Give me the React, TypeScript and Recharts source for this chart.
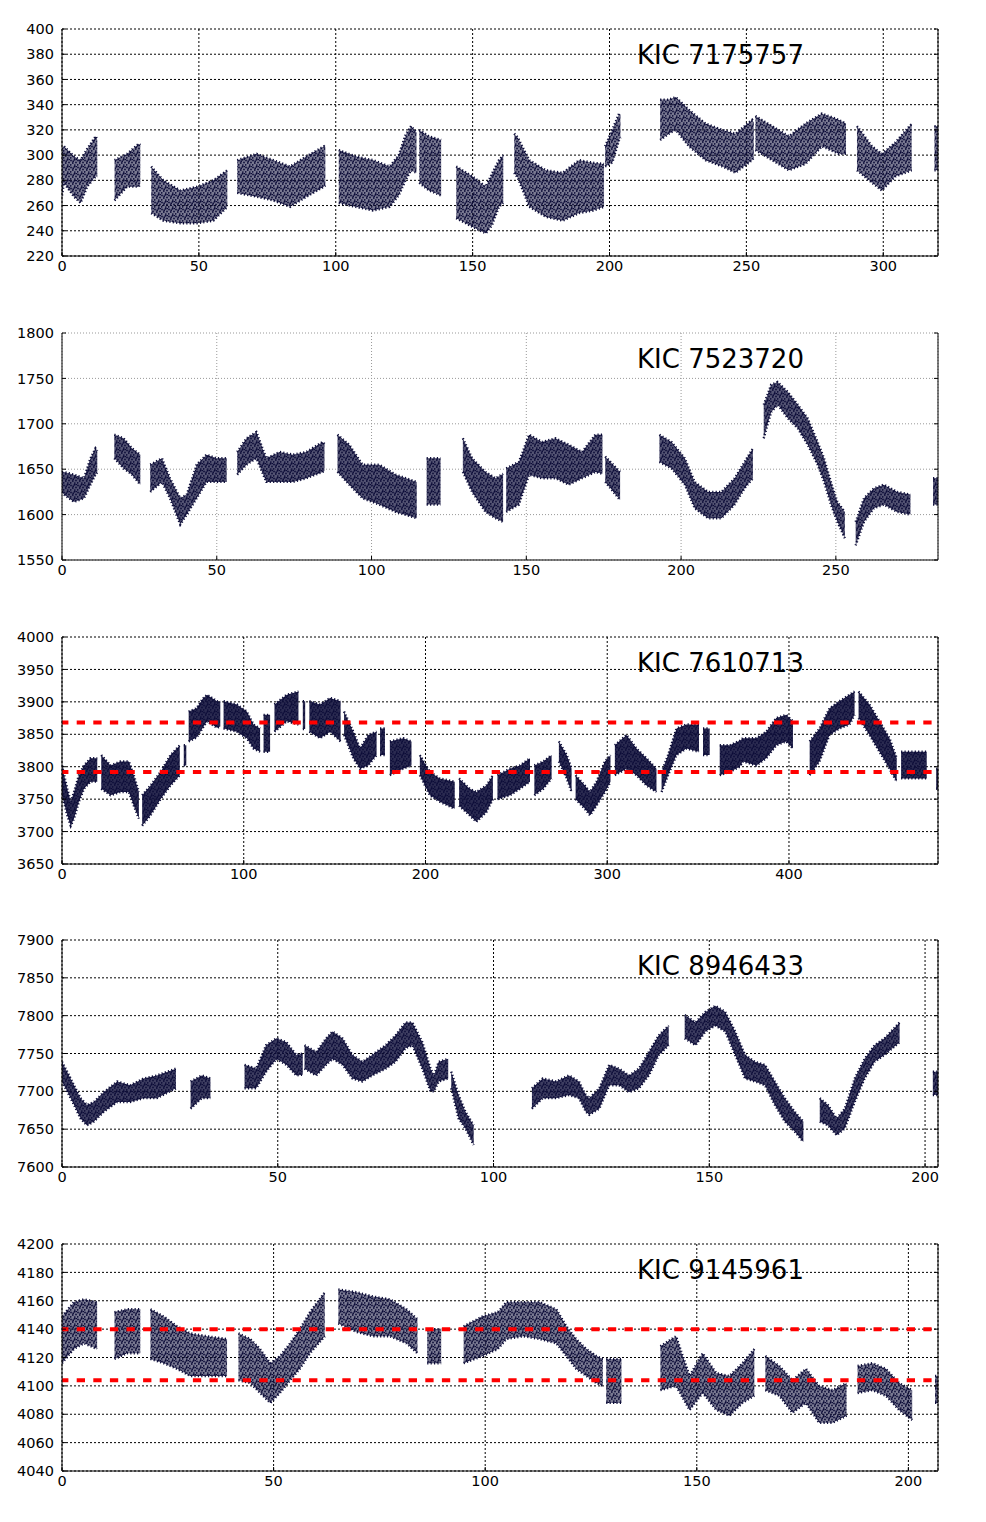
import { ComposedChart, Area, XAxis, YAxis, CartesianGrid, ReferenceLine } from "recharts";

// each segment: [day, low edge of the cloud, high edge of the cloud]
const kic7175757 = [
  [[0, 268, 305], [0.7, 278, 307], [4.4, 267, 299], [6.8, 262, 296], [9.2, 275, 305], [12.3, 283, 315], [12.9, 283, 312]],
  [[19.2, 264, 296], [23.8, 275, 301], [28, 275, 309], [28.6, 277, 308]],
  [[32.6, 254, 291], [37, 248, 280], [43.2, 246, 272], [49.3, 246, 275], [55.3, 248, 280], [60.4, 259, 288]],
  [[64, 270, 296], [71.1, 267, 301], [77.2, 264, 296], [83.3, 259, 291], [89.3, 267, 299], [95.7, 275, 307], [96.2, 276, 306]],
  [[101.1, 262, 304], [107.3, 259, 299], [113.6, 256, 296], [119.7, 259, 291], [123, 268, 300], [125.5, 280, 316], [127.5, 288, 323], [129.5, 286, 318]],
  [[130.5, 278, 320], [134, 272, 315], [138.5, 268, 312]],
  [[144, 250, 291], [150, 243, 283], [154.8, 238, 275], [157, 244, 285], [159.6, 259, 296], [161.2, 262, 300]],
  [[165.2, 286, 317], [166.5, 282, 314], [170.7, 259, 296], [176.8, 251, 288], [182.9, 248, 286], [188.9, 254, 296], [194, 256, 294], [198, 259, 293]],
  [[198.4, 291, 307], [201, 294, 320], [203.5, 312, 333], [204, 314, 332]],
  [[218.5, 312, 344], [221.7, 317, 344], [224.2, 320, 346], [229, 307, 336], [235.1, 296, 325], [241.2, 291, 320], [246, 286, 317], [252.1, 296, 328], [252.7, 298, 326]],
  [[253.3, 304, 331], [259.4, 296, 323], [265.5, 288, 315], [271.6, 293, 325], [277.6, 307, 333], [283.7, 301, 328], [286.4, 301, 325]],
  [[290.4, 288, 323], [295.9, 278, 307], [299.5, 272, 301], [304.4, 283, 310], [310.4, 288, 325]],
  [[318.7, 288, 323], [320, 288, 323]],
];

const kic7523720 = [
  [[0, 1625, 1647], [0.6, 1622, 1647], [3.9, 1614, 1644], [7.1, 1618, 1640], [9.2, 1633, 1662], [10.8, 1644, 1673], [11.4, 1646, 1670]],
  [[16.9, 1662, 1688], [19.9, 1651, 1684], [22.6, 1644, 1673], [25.3, 1633, 1666]],
  [[28.5, 1625, 1655], [32.3, 1636, 1662], [34.9, 1618, 1640], [38.2, 1589, 1618], [40.3, 1600, 1622], [43.5, 1618, 1655], [46.7, 1636, 1666], [49.9, 1636, 1662], [53.2, 1636, 1662]],
  [[56.6, 1644, 1669], [59.6, 1655, 1684], [62.8, 1662, 1691], [66, 1636, 1662], [70.3, 1636, 1669], [74.6, 1636, 1666], [78.9, 1640, 1669], [84.2, 1647, 1680], [84.8, 1648, 1678]],
  [[89, 1647, 1688], [92.8, 1633, 1677], [97.1, 1618, 1655], [102.5, 1611, 1655], [107.8, 1603, 1644], [114.6, 1596, 1636]],
  [[117.8, 1611, 1662], [122.3, 1611, 1662]],
  [[129.5, 1647, 1684], [132.5, 1625, 1662], [136.8, 1603, 1647], [140.1, 1596, 1640], [142.5, 1592, 1645]],
  [[143.5, 1603, 1651], [147.6, 1611, 1658], [150.9, 1644, 1688], [155.1, 1640, 1680], [159.4, 1640, 1684], [163.7, 1633, 1677], [168, 1640, 1669], [172.3, 1647, 1688], [174.6, 1645, 1688]],
  [[175.5, 1636, 1664], [180.3, 1616, 1647]],
  [[193, 1658, 1688], [196.9, 1651, 1680], [201.2, 1633, 1662], [204.4, 1607, 1636], [208.7, 1596, 1625], [213, 1596, 1625], [217.3, 1611, 1640], [220.5, 1629, 1658], [223.2, 1640, 1673]],
  [[226.7, 1684, 1721], [229.1, 1713, 1743], [231.2, 1721, 1746], [234.5, 1706, 1735], [237.7, 1695, 1721], [240.9, 1677, 1706], [244.1, 1655, 1680], [246.2, 1636, 1662], [248.4, 1611, 1636], [250.5, 1592, 1614], [252.9, 1574, 1603]],
  [[256.4, 1566, 1592], [259.1, 1592, 1618], [262.3, 1607, 1629], [265.5, 1611, 1633], [269.8, 1603, 1625], [274.1, 1600, 1622]],
  [[281.4, 1611, 1640], [283, 1611, 1640]],
];

const kic7610713 = [
  [[0, 3756, 3802], [2.9, 3725, 3766], [4.8, 3709, 3746], [6.6, 3720, 3761], [9.3, 3746, 3787], [12.1, 3766, 3802], [15.7, 3777, 3813], [19.4, 3777, 3813]],
  [[21.6, 3766, 3818], [26.7, 3756, 3802], [32.2, 3761, 3808], [36.8, 3761, 3808], [39.5, 3740, 3787], [42.3, 3720, 3761]],
  [[44.1, 3709, 3756], [48.7, 3725, 3771], [54.2, 3750, 3792], [59.7, 3771, 3818], [64.8, 3787, 3833]],
  [[67, 3802, 3833], [68.4, 3802, 3833]],
  [[69.7, 3839, 3885], [74, 3845, 3890], [77.5, 3860, 3905], [79.8, 3870, 3911], [85.3, 3860, 3901], [87.1, 3862, 3900]],
  [[88.9, 3859, 3901], [96.2, 3854, 3896], [101.7, 3844, 3885], [105.4, 3828, 3865], [109, 3823, 3859]],
  [[110.9, 3823, 3880], [114.5, 3823, 3880]],
  [[116.9, 3854, 3896], [123.7, 3870, 3911], [130.1, 3865, 3916]],
  [[132.5, 3858, 3901], [133.8, 3858, 3901]],
  [[136.1, 3854, 3901], [142, 3844, 3896], [147.5, 3854, 3906], [153.3, 3839, 3901]],
  [[155.2, 3849, 3885], [160.3, 3813, 3854], [164, 3797, 3828], [168.5, 3802, 3849], [173.1, 3818, 3854]],
  [[175, 3818, 3859], [177.7, 3818, 3859]],
  [[180.4, 3787, 3839], [187.7, 3797, 3844], [192.3, 3802, 3839]],
  [[196.9, 3787, 3818], [202.4, 3756, 3792], [207.9, 3746, 3782], [216.1, 3735, 3777]],
  [[218.5, 3740, 3782], [224.3, 3725, 3766], [228, 3715, 3761], [233.5, 3730, 3771], [237.1, 3750, 3787]],
  [[239.6, 3750, 3787], [246.5, 3756, 3797], [252, 3766, 3802], [257.5, 3777, 3813]],
  [[259.9, 3756, 3802], [264.8, 3766, 3808], [269.4, 3782, 3818]],
  [[273.4, 3808, 3839], [277.7, 3782, 3818], [280.4, 3761, 3797]],
  [[282.6, 3750, 3787], [287.7, 3735, 3771], [290.5, 3725, 3761], [294.1, 3740, 3777], [298.7, 3761, 3808], [301.8, 3777, 3818]],
  [[304.2, 3787, 3833], [310.6, 3797, 3849], [316.1, 3787, 3828], [321.6, 3771, 3813], [327.1, 3761, 3797]],
  [[329.9, 3761, 3792], [333.5, 3787, 3818], [338.1, 3818, 3859], [343.6, 3828, 3865], [350.5, 3823, 3865]],
  [[352.7, 3818, 3859], [356.4, 3818, 3859]],
  [[361.9, 3787, 3833], [367.4, 3792, 3833], [372.9, 3800, 3840], [374.7, 3808, 3844], [382.1, 3802, 3844], [387.5, 3813, 3854], [393, 3833, 3875], [398.5, 3839, 3880], [402.2, 3828, 3870]],
  [[411.4, 3787, 3839], [416.8, 3808, 3859], [422.3, 3849, 3890], [427.8, 3859, 3901], [433.3, 3865, 3911], [436.1, 3880, 3916]],
  [[438.3, 3875, 3916], [444.3, 3849, 3896], [449.8, 3823, 3870], [455.3, 3797, 3844], [459.3, 3777, 3813]],
  [[461.7, 3782, 3823], [475.8, 3782, 3823]],
  [[481, 3766, 3797], [482.4, 3766, 3797]],
];

const kic8946433 = [
  [[0, 7713, 7739], [1.2, 7700, 7726], [2.8, 7682, 7708], [4.3, 7664, 7691], [5.8, 7655, 7682], [7.4, 7660, 7686], [9.7, 7673, 7699], [12.8, 7686, 7713], [15.8, 7686, 7708], [18.9, 7691, 7717], [22, 7691, 7721], [26.4, 7704, 7730]],
  [[29.8, 7677, 7713], [32.4, 7691, 7721], [34.4, 7691, 7717]],
  [[42.3, 7704, 7735], [45, 7704, 7730], [47.3, 7726, 7761], [49.7, 7743, 7770], [52, 7735, 7765], [54.3, 7721, 7748], [55.8, 7722, 7750]],
  [[56.2, 7730, 7761], [58.9, 7721, 7752], [61.2, 7735, 7770], [62.7, 7743, 7779], [65, 7735, 7770], [67.3, 7717, 7748], [69.6, 7713, 7739], [71.9, 7721, 7748], [75, 7730, 7761], [77.3, 7739, 7774], [79.6, 7757, 7791], [81.2, 7761, 7791], [83.5, 7730, 7765], [85.4, 7700, 7730], [86.2, 7700, 7721], [87.3, 7713, 7739], [89.5, 7717, 7743]],
  [[90.2, 7704, 7726], [91.9, 7664, 7695], [93.5, 7651, 7673], [95.4, 7629, 7655]],
  [[108.9, 7677, 7704], [111.4, 7691, 7717], [114.5, 7691, 7713], [117.5, 7695, 7721], [119.8, 7691, 7713], [121.4, 7673, 7695], [122.2, 7669, 7691], [124.5, 7677, 7704], [126.8, 7708, 7735], [129.1, 7708, 7730], [131.4, 7699, 7721], [133.7, 7704, 7730], [136, 7721, 7752], [138.3, 7748, 7774], [140.6, 7761, 7787]],
  [[144.3, 7770, 7801], [146.8, 7761, 7791], [149.1, 7779, 7805], [151.4, 7787, 7813], [153.7, 7779, 7805], [156, 7748, 7779], [158.3, 7717, 7748], [160.6, 7713, 7739], [162.9, 7708, 7735], [165.2, 7682, 7713], [167.5, 7660, 7691], [169.8, 7647, 7673], [171.8, 7633, 7660]],
  [[175.6, 7660, 7691], [177.5, 7655, 7682], [179.5, 7642, 7664], [181.4, 7651, 7677], [183.7, 7686, 7717], [186, 7717, 7743], [188.3, 7739, 7761], [190.6, 7748, 7770], [194.1, 7765, 7791]],
  [[201.8, 7695, 7726], [203, 7695, 7726]],
];

const kic9145961 = [
  [[0, 4116, 4149], [2.8, 4126, 4159], [5.2, 4130, 4161], [8.3, 4126, 4159]],
  [[12.4, 4119, 4152], [15.4, 4123, 4154], [18.5, 4123, 4154]],
  [[20.9, 4119, 4154], [24, 4116, 4149], [27.2, 4112, 4142], [30.3, 4107, 4137], [34.2, 4107, 4135], [39, 4107, 4133]],
  [[41.7, 4104, 4137], [44.5, 4102, 4133], [46.8, 4095, 4126], [49.2, 4088, 4116], [51.5, 4095, 4121], [53.9, 4104, 4130], [56.2, 4112, 4140], [58.6, 4123, 4152], [62.1, 4135, 4166]],
  [[65.3, 4144, 4168], [69.6, 4138, 4166], [73.5, 4135, 4163], [77.5, 4135, 4161], [81.4, 4130, 4154], [84, 4123, 4147]],
  [[86.3, 4116, 4140], [89.6, 4116, 4140]],
  [[94.9, 4116, 4142], [99.4, 4121, 4149], [103, 4126, 4152], [105, 4133, 4159], [109, 4135, 4159], [112.9, 4133, 4159], [116.8, 4130, 4154], [119.2, 4121, 4142], [121.5, 4112, 4133], [123.9, 4107, 4126], [126.3, 4102, 4121], [127.8, 4100, 4119]],
  [[128.6, 4088, 4119], [132.2, 4088, 4119]],
  [[141.4, 4097, 4128], [145.1, 4100, 4135], [148.3, 4083, 4107], [151.4, 4095, 4123], [154.6, 4083, 4109], [157.7, 4079, 4107], [160.8, 4088, 4116], [163.6, 4093, 4126]],
  [[166.2, 4097, 4121], [169.5, 4093, 4114], [172.6, 4081, 4104], [175.8, 4088, 4112], [178.9, 4074, 4100], [182.1, 4074, 4097], [185.4, 4079, 4102]],
  [[188, 4095, 4114], [191.5, 4097, 4116], [194.7, 4093, 4112], [197.8, 4083, 4102], [200.9, 4076, 4097]],
  [[206.3, 4088, 4107], [207.1, 4088, 4107]],
];

const titles = ["KIC 7175757", "KIC 7523720", "KIC 7610713", "KIC 8946433", "KIC 9145961"];

const xTicks1 = [0, 50, 100, 150, 200, 250, 300];
const xTicks2 = [0, 50, 100, 150, 200, 250];
const xTicks3 = [0, 100, 200, 300, 400];
const xTicks4 = [0, 50, 100, 150, 200];
const xTicks5 = [0, 50, 100, 150, 200];

const yTicks1 = [220, 240, 260, 280, 300, 320, 340, 360, 380, 400];
const yTicks2 = [1550, 1600, 1650, 1700, 1750, 1800];
const yTicks3 = [3650, 3700, 3750, 3800, 3850, 3900, 3950, 4000];
const yTicks4 = [7600, 7650, 7700, 7750, 7800, 7850, 7900];
const yTicks5 = [4040, 4060, 4080, 4100, 4120, 4140, 4160, 4180, 4200];

const xMax = [320, 283, 482, 203, 207];
const levels3 = [3868, 3792];
const levels5 = [4140, 4104];

const FONT = "'DejaVu Sans', sans-serif";
const DOT = "#0c0c38";

function toRows(segs: number[][][]) {
  const rows: { t: number; band: number[] | null }[] = [];
  segs.forEach((seg, i) => {
    if (i > 0) rows.push({ t: seg[0][0] - 0.01, band: null });
    seg.forEach(([t, lo, hi]) => rows.push({ t, band: [lo, hi] }));
  });
  return rows;
}

const panels = [
  { segs: kic7175757, xTicks: xTicks1, yTicks: yTicks1, levels: [], top: 29, opacity: 0.55, grid: "#000", dash: "2 2" },
  { segs: kic7523720, xTicks: xTicks2, yTicks: yTicks2, levels: [], top: 333, opacity: 0.7, grid: "#999", dash: "1 2" },
  { segs: kic7610713, xTicks: xTicks3, yTicks: yTicks3, levels: levels3, top: 637, opacity: 0.88, grid: "#000", dash: "2 2" },
  { segs: kic8946433, xTicks: xTicks4, yTicks: yTicks4, levels: [], top: 940, opacity: 0.8, grid: "#000", dash: "2 2" },
  { segs: kic9145961, xTicks: xTicks5, yTicks: yTicks5, levels: levels5, top: 1244, opacity: 0.55, grid: "#000", dash: "2 2" },
];

// speckle tile so the bands read like a dense cloud of points
const speckle = [
  [1, 1.5], [4.5, 0.8], [2.8, 4], [6, 3.5], [0.7, 5.8], [4.8, 6.1], [3.2, 2.2], [6.3, 0.4],
];

const PLOT_H = 227;
const tickStyle = { fill: "#000", fontSize: 14.5, fontFamily: FONT };
const blank = () => "";

function Panel({ p, i }: { p: (typeof panels)[number]; i: number }) {
  const data = toRows(p.segs);
  const xDomain = [0, xMax[i]];
  const yDomain = [p.yTicks[0], p.yTicks[p.yTicks.length - 1]];
  const pid = `speck${i}`;
  return (
    <div style={{ position: "absolute", left: 0, top: p.top - 10, width: 986, height: PLOT_H + 40 }}>
      <ComposedChart width={986} height={PLOT_H + 40} data={data} margin={{ top: 10, right: 0, bottom: 0, left: 0 }}>
        <defs>
          <pattern id={pid} width={7} height={7} patternUnits="userSpaceOnUse">
            <rect width={7} height={7} fill={DOT} fillOpacity={p.opacity} />
            {speckle.map(([cx, cy], k) => (
              <circle key={k} cx={cx} cy={cy} r={0.9} fill={DOT} />
            ))}
          </pattern>
        </defs>
        <CartesianGrid stroke={p.grid} strokeDasharray={p.dash} strokeWidth={1} />
        <XAxis
          dataKey="t" type="number" domain={xDomain} ticks={p.xTicks} interval={0} allowDataOverflow
          height={30} tickSize={-4} tickMargin={9} tick={tickStyle}
          axisLine={{ stroke: "#000" }} tickLine={{ stroke: "#000" }}
        />
        <XAxis
          xAxisId="top" orientation="top" dataKey="t" type="number" domain={xDomain} ticks={p.xTicks}
          interval={0} allowDataOverflow height={0} tickSize={-4} tickFormatter={blank}
          axisLine={{ stroke: "#000" }} tickLine={{ stroke: "#000" }}
        />
        <YAxis
          type="number" domain={yDomain} ticks={p.yTicks} interval={0} allowDataOverflow
          width={62} tickSize={-4} tickMargin={12} tick={tickStyle}
          axisLine={{ stroke: "#000" }} tickLine={{ stroke: "#000" }}
        />
        <YAxis
          yAxisId="right" orientation="right" type="number" domain={yDomain} ticks={p.yTicks}
          interval={0} allowDataOverflow width={48} tickSize={-4} tickFormatter={blank}
          axisLine={{ stroke: "#000" }} tickLine={{ stroke: "#000" }}
        />
        <Area
          dataKey="band" type="linear" stroke={DOT} strokeWidth={2.4} strokeDasharray="1.2 2.2"
          fill={`url(#${pid})`} fillOpacity={1} isAnimationActive={false} dot={false} activeDot={false}
        />
        {p.levels.map((v) => (
          <ReferenceLine key={v} y={v} stroke="#ff0000" strokeWidth={4} strokeDasharray="8.3 8.3" strokeDashoffset={1.9} />
        ))}
      </ComposedChart>
      <div
        style={{
          position: "absolute", left: 637, top: 23, fontFamily: FONT, fontSize: 26,
          lineHeight: "26px", color: "#000", whiteSpace: "nowrap",
        }}
      >
        {titles[i]}
      </div>
    </div>
  );
}

export default function App() {
  return (
    <div style={{ position: "absolute", left: 0, top: 0, width: 986, height: 1522, background: "#fff" }}>
      {panels.map((p, i) => (
        <Panel key={i} p={p} i={i} />
      ))}
    </div>
  );
}
